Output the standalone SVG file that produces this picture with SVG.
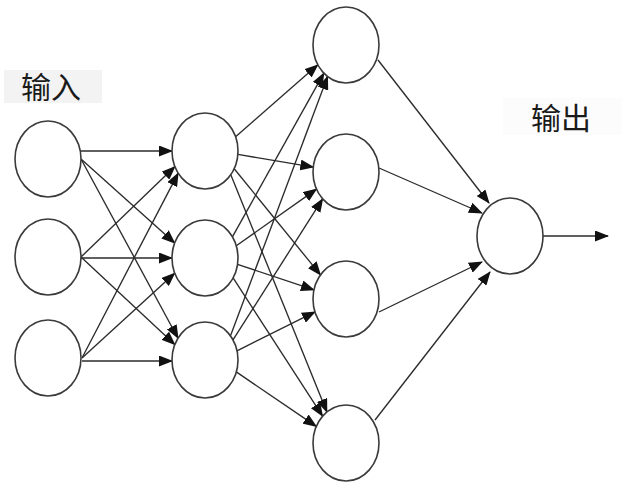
<svg xmlns="http://www.w3.org/2000/svg" width="628" height="489" viewBox="0 0 628 489">
<style>
.node ellipse{fill:#fff;stroke:#3a3a3a;stroke-width:1.6}
.edges line{stroke:#2b2b2b;stroke-width:1.35;marker-end:url(#ah)}
.lbl{font-family:"Noto Sans CJK SC","Noto Sans",sans-serif;font-size:30px;fill:#1a1a1a}
</style>
<defs>
<marker id="ah" markerWidth="14" markerHeight="11" refX="13" refY="5.5" orient="auto" markerUnits="userSpaceOnUse">
<path d="M0,0 L14,5.5 L0,11 z" fill="#111"/>
</marker>
</defs>
<rect x="0" y="0" width="628" height="489" fill="#fff"/>
<g id="label-in"><rect x="4" y="70" width="98" height="33" fill="#f3f3f3"/><text class="lbl" x="21" y="98">输入</text></g>
<g id="label-out"><rect x="503" y="98" width="119" height="37" fill="#fcfcfc"/><text class="lbl" x="531" y="129">输出</text></g>
<g class="edges" id="edges">
<line x1="80" y1="151" x2="172" y2="151"/>
<line x1="81" y1="159" x2="174.7" y2="243"/>
<line x1="81" y1="159" x2="178" y2="338.2"/>
<line x1="81" y1="257" x2="174.9" y2="166.6"/>
<line x1="81" y1="258" x2="172" y2="258"/>
<line x1="81" y1="257" x2="174.8" y2="344.6"/>
<line x1="82" y1="358" x2="178.2" y2="173.1"/>
<line x1="82" y1="358" x2="174.7" y2="273.2"/>
<line x1="82" y1="361" x2="172" y2="361"/>
<line x1="235.6" y1="136.7" x2="317.8" y2="64.8"/>
<line x1="237.9" y1="154.4" x2="313.3" y2="167.2"/>
<line x1="234.2" y1="168.7" x2="320.5" y2="274.9"/>
<line x1="230.8" y1="174.7" x2="326.9" y2="412"/>
<line x1="232.4" y1="236.8" x2="323.9" y2="73.2"/>
<line x1="236.3" y1="245.8" x2="316.5" y2="189.1"/>
<line x1="237.5" y1="264.4" x2="314" y2="289.9"/>
<line x1="233.1" y1="277.9" x2="322.6" y2="416.2"/>
<line x1="230.5" y1="335.8" x2="327.6" y2="76.5"/>
<line x1="233" y1="339.9" x2="322.7" y2="198.9"/>
<line x1="237" y1="350.8" x2="315" y2="311.9"/>
<line x1="236.3" y1="371.9" x2="316.3" y2="426.4"/>
<line x1="378" y1="60" x2="489" y2="203"/>
<line x1="379" y1="168" x2="482" y2="213"/>
<line x1="379" y1="312" x2="482" y2="262"/>
<line x1="375" y1="420" x2="490" y2="272"/>
<line x1="543" y1="236" x2="608" y2="236"/>
</g>
<g class="node" id="in1"><ellipse cx="48" cy="159" rx="33" ry="38"/></g>
<g class="node" id="in2"><ellipse cx="48" cy="257" rx="33" ry="38"/></g>
<g class="node" id="in3"><ellipse cx="48" cy="358" rx="33" ry="38"/></g>
<g class="node" id="h1a"><ellipse cx="205" cy="151" rx="33" ry="38"/></g>
<g class="node" id="h1b"><ellipse cx="205" cy="258" rx="33" ry="38"/></g>
<g class="node" id="h1c"><ellipse cx="205" cy="360" rx="33" ry="38"/></g>
<g class="node" id="h2a"><ellipse cx="346" cy="45" rx="33" ry="38"/></g>
<g class="node" id="h2b"><ellipse cx="346" cy="172" rx="33" ry="38"/></g>
<g class="node" id="h2c"><ellipse cx="346" cy="299" rx="33" ry="38"/></g>
<g class="node" id="h2d"><ellipse cx="346" cy="443" rx="33" ry="38"/></g>
<g class="node" id="out"><ellipse cx="510" cy="236" rx="33" ry="38"/></g>
</svg>
